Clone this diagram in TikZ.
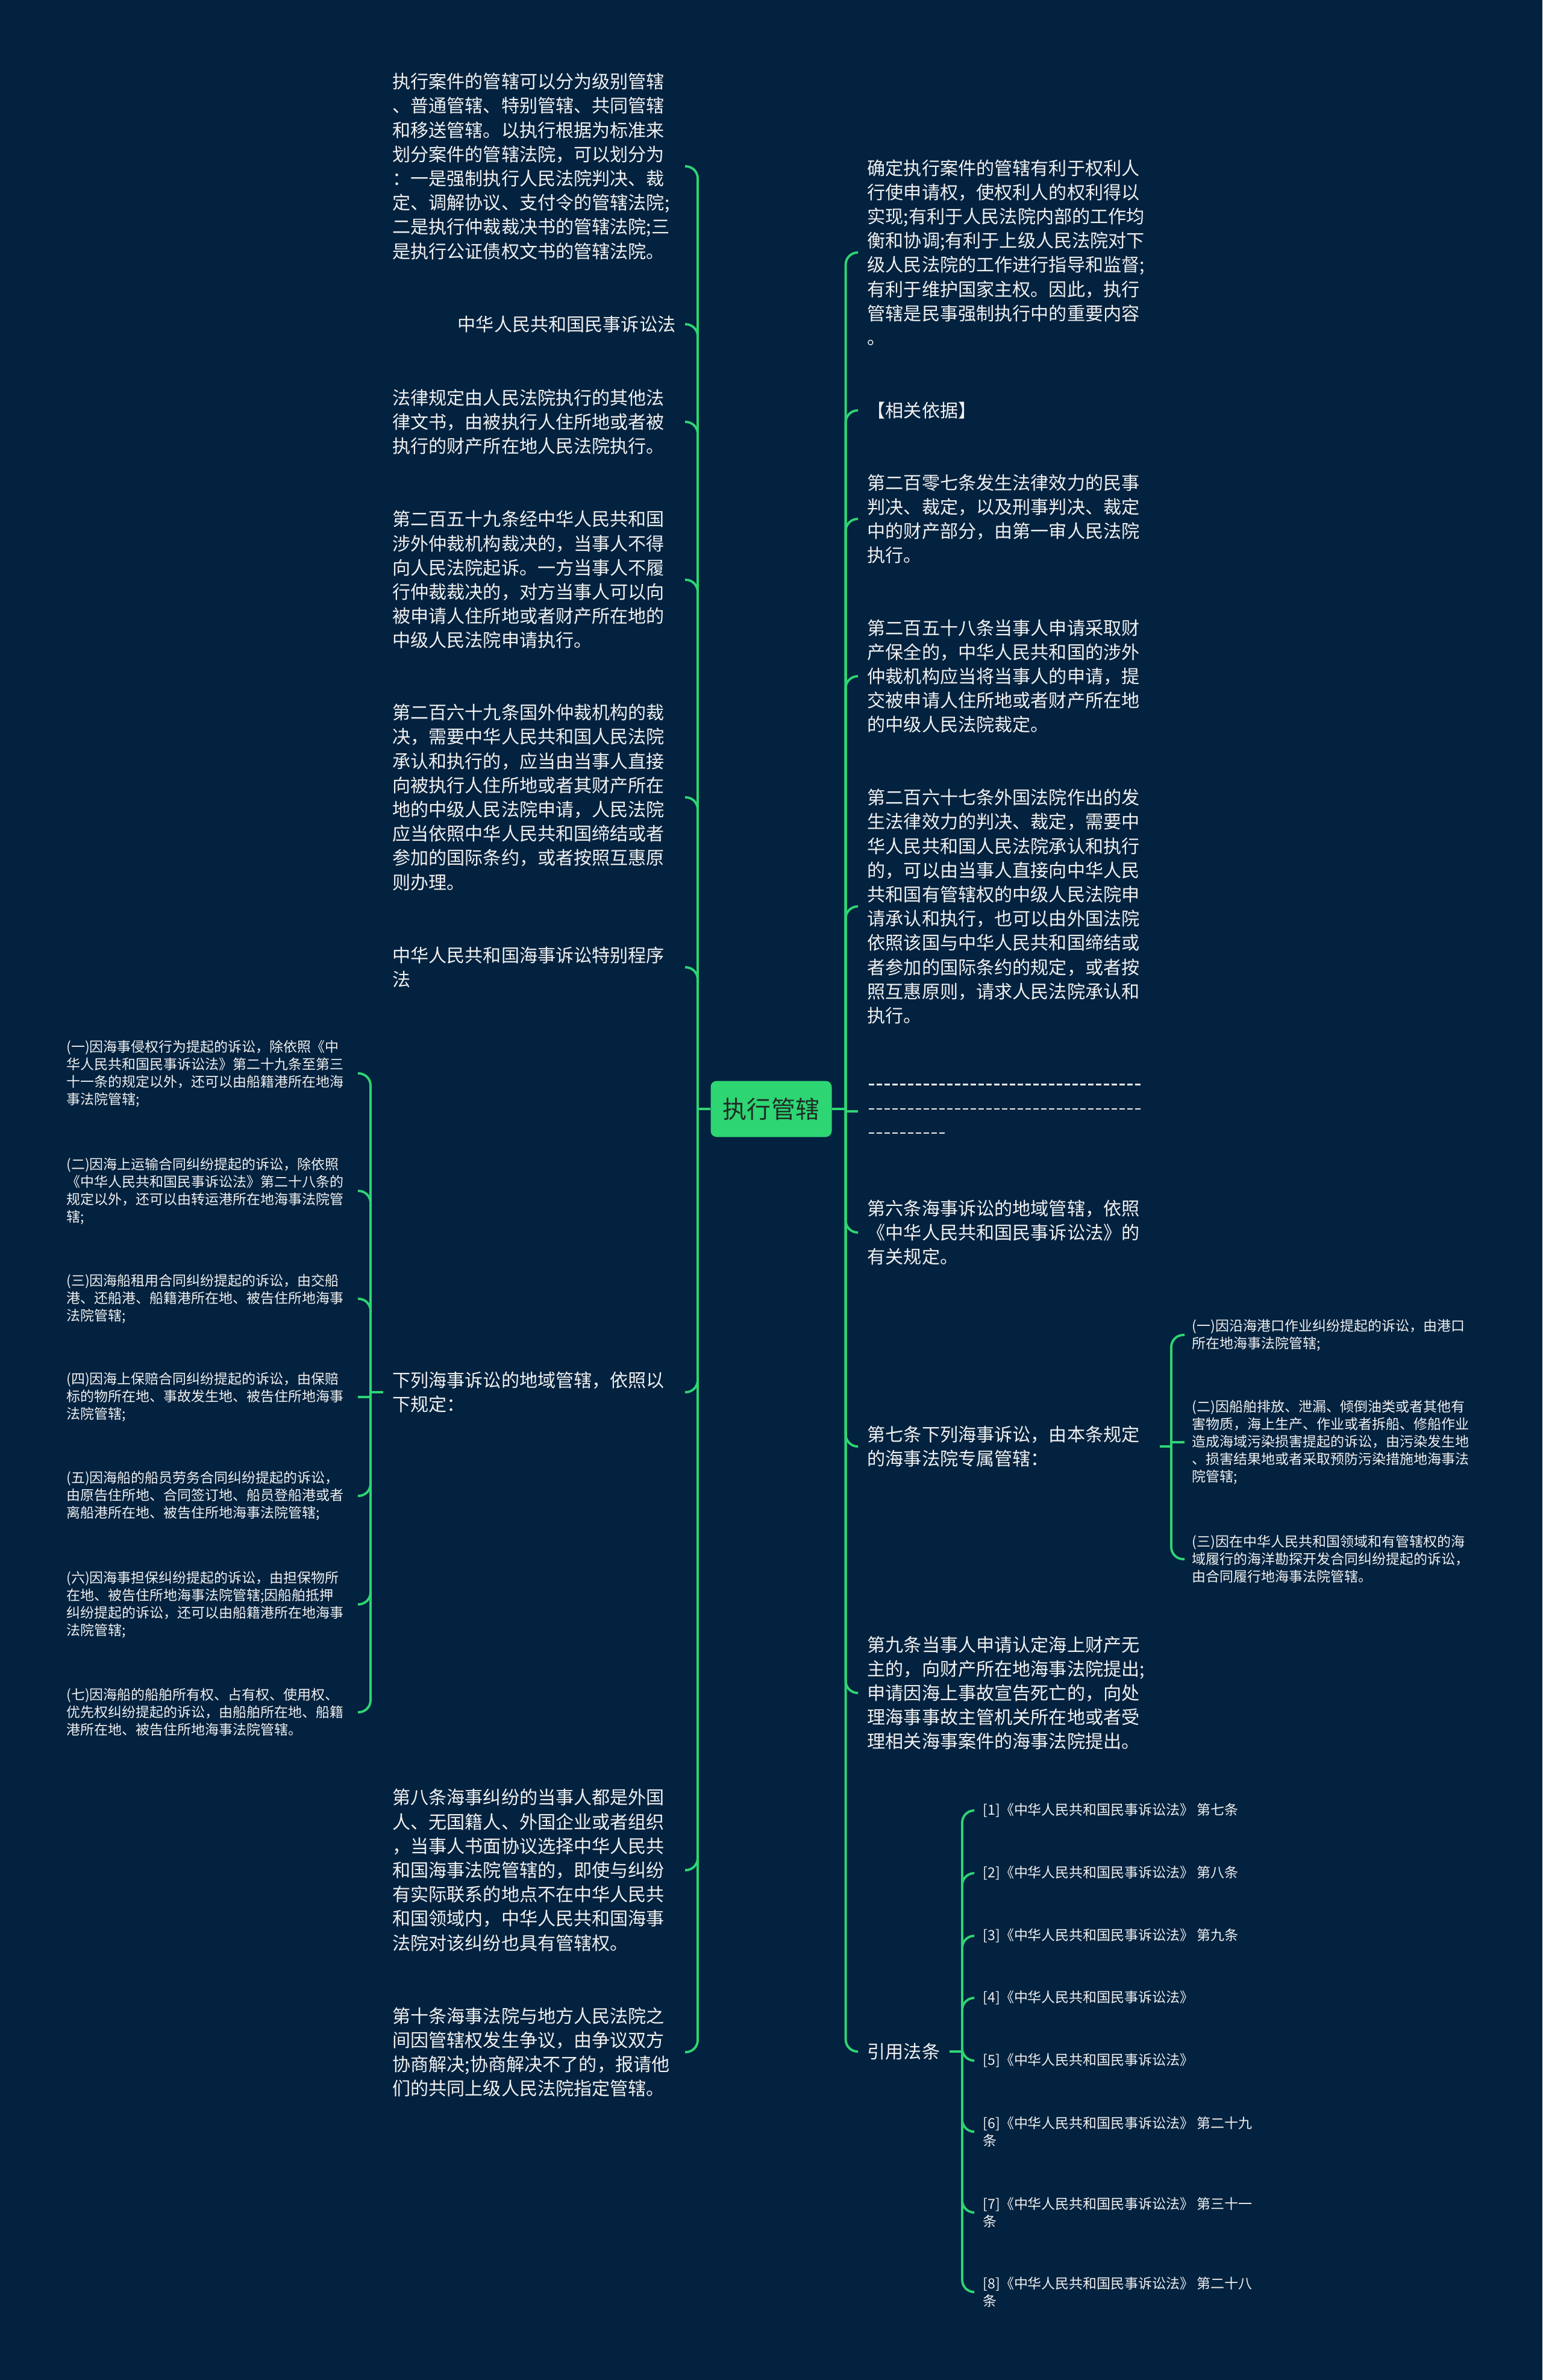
\documentclass[tikz,border=0pt]{standalone}
\usepackage{fontspec}
\setmainfont{Noto Sans CJK SC}
\definecolor{mapnavy}{RGB}{3, 34, 63}
\definecolor{mapgreen}{RGB}{46, 213, 115}
\definecolor{maptext}{RGB}{240, 240, 240}
\definecolor{rootink}{RGB}{30, 45, 38}
\newcount\dashcnt
\newcommand{\dashbit}{\hbox to 0.13cm{\hss\rule[0.085cm]{0.09cm}{0.022cm}\hss}}
\newcommand{\dashrow}[1]{\leavevmode\dashcnt=0 \loop\dashbit\advance\dashcnt by 1 \ifnum\dashcnt<#1 \repeat}
\begin{document}
\begin{tikzpicture}[
        rootbox/.style={fill=mapgreen, rounded corners=0.1cm, minimum width=2.01cm, minimum height=0.93cm, text=rootink, font=\fontsize{11.4}{13}\selectfont},
        lbox/.style={anchor=east, text width=4.70cm, align=left, inner xsep=0.15cm, text=maptext, font=\fontsize{8.57}{11.44}\selectfont},
        lshort/.style={anchor=east, inner xsep=0.15cm, text=maptext, font=\fontsize{8.57}{11.44}\selectfont},
        rbox/.style={anchor=west, text width=4.70cm, align=left, inner xsep=0.15cm, text=maptext, font=\fontsize{8.57}{11.44}\selectfont},
        rshort/.style={anchor=west, inner xsep=0.15cm, text=maptext, font=\fontsize{8.57}{11.44}\selectfont},
        lsub/.style={anchor=east, text width=4.70cm, align=left, inner xsep=0.13cm, text=maptext, font=\fontsize{6.54}{8.25}\selectfont},
        rsub/.style={anchor=west, align=left, inner xsep=0.12cm, text=maptext, font=\fontsize{6.54}{8.25}\selectfont},
        refbox/.style={anchor=west, align=left, inner xsep=0.14cm, text=maptext, font=\fontsize{6.54}{8.4}\selectfont},
        link/.style={draw=mapgreen, line width=1.1pt, rounded corners=0.2cm}
      ]
        \fill[mapnavy] (0,0) rectangle (25.60,-39.49);
        \node[rootbox] (root) at (12.80,-18.40) {执行管辖};
        \coordinate (ltrunk) at (11.58,-18.40);
        \coordinate (rtrunk) at (14.036,-18.40);
        \node[lbox] (l1) at (11.37,-2.76) {执行案件的管辖可以分为级别管辖\\、普通管辖、特别管辖、共同管辖\\和移送管辖。以执行根据为标准来\\划分案件的管辖法院，可以划分为\\：一是强制执行人民法院判决、裁\\定、调解协议、支付令的管辖法院;\\二是执行仲裁裁决书的管辖法院;三\\是执行公证债权文书的管辖法院。};
        \node[lshort] (l2) at (11.37,-5.38) {中华人民共和国民事诉讼法};
        \node[lbox] (l3) at (11.37,-7.00) {法律规定由人民法院执行的其他法\\律文书，由被执行人住所地或者被\\执行的财产所在地人民法院执行。};
        \node[lbox] (l4) at (11.37,-9.62) {第二百五十九条经中华人民共和国\\涉外仲裁机构裁决的，当事人不得\\向人民法院起诉。一方当事人不履\\行仲裁裁决的，对方当事人可以向\\被申请人住所地或者财产所在地的\\中级人民法院申请执行。};
        \node[lbox] (l5) at (11.37,-13.23) {第二百六十九条国外仲裁机构的裁\\决，需要中华人民共和国人民法院\\承认和执行的，应当由当事人直接\\向被执行人住所地或者其财产所在\\地的中级人民法院申请，人民法院\\应当依照中华人民共和国缔结或者\\参加的国际条约，或者按照互惠原\\则办理。};
        \node[lbox] (l6) at (11.37,-16.05) {中华人民共和国海事诉讼特别程序\\法};
        \node[lbox] (l7) at (11.37,-23.10) {下列海事诉讼的地域管辖，依照以\\下规定：};
        \node[lbox] (l8) at (11.37,-31.03) {第八条海事纠纷的当事人都是外国\\人、无国籍人、外国企业或者组织\\，当事人书面协议选择中华人民共\\和国海事法院管辖的，即使与纠纷\\有实际联系的地点不在中华人民共\\和国领域内，中华人民共和国海事\\法院对该纠纷也具有管辖权。};
        \node[lbox] (l9) at (11.37,-34.05) {第十条海事法院与地方人民法院之\\间因管辖权发生争议，由争议双方\\协商解决;协商解决不了的，报请他\\们的共同上级人民法院指定管辖。};
        \coordinate (lltrunk) at (6.15,-23.10);
        \node[lsub] (ll1) at (5.94,-17.81) {(一)因海事侵权行为提起的诉讼，除依照《中\\华人民共和国民事诉讼法》第二十九条至第三\\十一条的规定以外，还可以由船籍港所在地海\\事法院管辖;};
        \node[lsub] (ll2) at (5.94,-19.76) {(二)因海上运输合同纠纷提起的诉讼，除依照\\《中华人民共和国民事诉讼法》第二十八条的\\规定以外，还可以由转运港所在地海事法院管\\辖;};
        \node[lsub] (ll3) at (5.94,-21.55) {(三)因海船租用合同纠纷提起的诉讼，由交船\\港、还船港、船籍港所在地、被告住所地海事\\法院管辖;};
        \node[lsub] (ll4) at (5.94,-23.18) {(四)因海上保赔合同纠纷提起的诉讼，由保赔\\标的物所在地、事故发生地、被告住所地海事\\法院管辖;};
        \node[lsub] (ll5) at (5.94,-24.82) {(五)因海船的船员劳务合同纠纷提起的诉讼，\\由原告住所地、合同签订地、船员登船港或者\\离船港所在地、被告住所地海事法院管辖;};
        \node[lsub] (ll6) at (5.94,-26.62) {(六)因海事担保纠纷提起的诉讼，由担保物所\\在地、被告住所地海事法院管辖;因船舶抵押\\纠纷提起的诉讼，还可以由船籍港所在地海事\\法院管辖;};
        \node[lsub] (ll7) at (5.94,-28.41) {(七)因海船的船舶所有权、占有权、使用权、\\优先权纠纷提起的诉讼，由船舶所在地、船籍\\港所在地、被告住所地海事法院管辖。};
        \node[rbox] (r1) at (14.24,-4.19) {确定执行案件的管辖有利于权利人\\行使申请权，使权利人的权利得以\\实现;有利于人民法院内部的工作均\\衡和协调;有利于上级人民法院对下\\级人民法院的工作进行指导和监督;\\有利于维护国家主权。因此，执行\\管辖是民事强制执行中的重要内容\\。};
        \node[rshort] (r2) at (14.24,-6.81) {【相关依据】};
        \node[rbox] (r3) at (14.24,-8.61) {第二百零七条发生法律效力的民事\\判决、裁定，以及刑事判决、裁定\\中的财产部分，由第一审人民法院\\执行。};
        \node[rbox] (r4) at (14.24,-11.22) {第二百五十八条当事人申请采取财\\产保全的，中华人民共和国的涉外\\仲裁机构应当将当事人的申请，提\\交被申请人住所地或者财产所在地\\的中级人民法院裁定。};
        \node[rbox] (r5) at (14.24,-15.04) {第二百六十七条外国法院作出的发\\生法律效力的判决、裁定，需要中\\华人民共和国人民法院承认和执行\\的，可以由当事人直接向中华人民\\共和国有管辖权的中级人民法院申\\请承认和执行，也可以由外国法院\\依照该国与中华人民共和国缔结或\\者参加的国际条约的规定，或者按\\照互惠原则，请求人民法院承认和\\执行。};
        \node[rbox] (r6) at (14.24,-18.44) {\dashrow{35}\\\dashrow{35}\\\dashrow{10}};
        \node[rbox] (r7) at (14.24,-20.45) {第六条海事诉讼的地域管辖，依照\\《中华人民共和国民事诉讼法》的\\有关规定。};
        \node[rbox] (r8) at (14.24,-24.00) {第七条下列海事诉讼，由本条规定\\的海事法院专属管辖：};
        \node[rbox] (r9) at (14.24,-28.09) {第九条当事人申请认定海上财产无\\主的，向财产所在地海事法院提出;\\申请因海上事故宣告死亡的，向处\\理海事事故主管机关所在地或者受\\理相关海事案件的海事法院提出。};
        \node[rshort] (r10) at (14.24,-34.04) {引用法条};
        \coordinate (rrtrunk) at (19.44,-24.00);
        \node[rsub] (rr1) at (19.66,-22.15) {(一)因沿海港口作业纠纷提起的诉讼，由港口\\所在地海事法院管辖;};
        \node[rsub] (rr2) at (19.66,-23.93) {(二)因船舶排放、泄漏、倾倒油类或者其他有\\害物质，海上生产、作业或者拆船、修船作业\\造成海域污染损害提起的诉讼，由污染发生地\\、损害结果地或者采取预防污染措施地海事法\\院管辖;};
        \node[rsub] (rr3) at (19.66,-25.87) {(三)因在中华人民共和国领域和有管辖权的海\\域履行的海洋勘探开发合同纠纷提起的诉讼，\\由合同履行地海事法院管辖。};
        \coordinate (rftrunk) at (15.97,-34.04);
        \node[refbox] (rf1) at (16.17,-30.04) {[1]《中华人民共和国民事诉讼法》 第七条};
        \node[refbox] (rf2) at (16.17,-31.08) {[2]《中华人民共和国民事诉讼法》 第八条};
        \node[refbox] (rf3) at (16.17,-32.12) {[3]《中华人民共和国民事诉讼法》 第九条};
        \node[refbox] (rf4) at (16.17,-33.15) {[4]《中华人民共和国民事诉讼法》};
        \node[refbox] (rf5) at (16.17,-34.19) {[5]《中华人民共和国民事诉讼法》};
        \node[refbox] (rf6) at (16.17,-35.37) {[6]《中华人民共和国民事诉讼法》 第二十九\\条};
        \node[refbox] (rf7) at (16.17,-36.71) {[7]《中华人民共和国民事诉讼法》 第三十一\\条};
        \node[refbox] (rf8) at (16.17,-38.03) {[8]《中华人民共和国民事诉讼法》 第二十八\\条};
        \draw[link] (root.west) -- (ltrunk);
        \draw[link] (root.east) -- (rtrunk);
        \draw[link] (ltrunk) |- (l1.east);
        \draw[link] (ltrunk) |- (l2.east);
        \draw[link] (ltrunk) |- (l3.east);
        \draw[link] (ltrunk) |- (l4.east);
        \draw[link] (ltrunk) |- (l5.east);
        \draw[link] (ltrunk) |- (l6.east);
        \draw[link] (ltrunk) |- (l7.east);
        \draw[link] (ltrunk) |- (l8.east);
        \draw[link] (ltrunk) |- (l9.east);
        \draw[link] (l7.west) -- (lltrunk);
        \draw[link] (lltrunk) |- (ll1.east);
        \draw[link] (lltrunk) |- (ll2.east);
        \draw[link] (lltrunk) |- (ll3.east);
        \draw[link, sharp corners] (lltrunk) |- (ll4.east);
        \draw[link] (lltrunk) |- (ll5.east);
        \draw[link] (lltrunk) |- (ll6.east);
        \draw[link] (lltrunk) |- (ll7.east);
        \draw[link] (rtrunk) |- (r1.west);
        \draw[link] (rtrunk) |- (r2.west);
        \draw[link] (rtrunk) |- (r3.west);
        \draw[link] (rtrunk) |- (r4.west);
        \draw[link] (rtrunk) |- (r5.west);
        \draw[link, sharp corners] (rtrunk) |- (r6.west);
        \draw[link] (rtrunk) |- (r7.west);
        \draw[link] (rtrunk) |- (r8.west);
        \draw[link] (rtrunk) |- (r9.west);
        \draw[link] (rtrunk) |- (r10.west);
        \draw[link] (r8.east) -- (rrtrunk);
        \draw[link] (rrtrunk) |- (rr1.west);
        \draw[link, sharp corners] (rrtrunk) |- (rr2.west);
        \draw[link] (rrtrunk) |- (rr3.west);
        \draw[link] (r10.east) -- (rftrunk);
        \draw[link] (rftrunk) |- (rf1.west);
        \draw[link] (rftrunk) |- (rf2.west);
        \draw[link] (rftrunk) |- (rf3.west);
        \draw[link] (rftrunk) |- (rf4.west);
        \draw[link] (rftrunk) |- (rf5.west);
        \draw[link] (rftrunk) |- (rf6.west);
        \draw[link] (rftrunk) |- (rf7.west);
        \draw[link] (rftrunk) |- (rf8.west);
      \end{tikzpicture}
\end{document}
